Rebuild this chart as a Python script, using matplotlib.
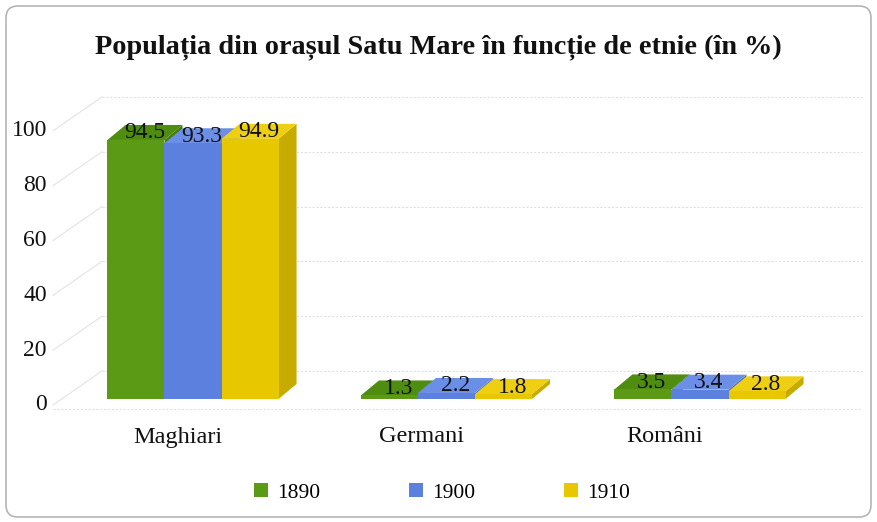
import matplotlib
matplotlib.use("Agg")
import matplotlib.pyplot as plt
from matplotlib.patches import Polygon, FancyBboxPatch, Patch
from matplotlib.transforms import IdentityTransform, ScaledTranslation
from matplotlib.lines import Line2D

plt.rcParams['font.family'] = ['Liberation Serif', 'DejaVu Serif']

# ---- data ----
categories = ["Maghiari", "Germani", "Români"]
years = ["1890", "1900", "1910"]
v1890 = [94.5, 1.3, 3.5]
v1900 = [93.3, 2.2, 3.4]
v1910 = [94.9, 1.8, 2.8]
yticks = [0, 20, 40, 60, 80, 100]
title = "Populația din orașul Satu Mare în funcție de etnie (în %)"

series = [v1890, v1900, v1910]
front = ["#5a9a14", "#5b80dd", "#e6c700"]
topc = ["#4f8d10", "#6b8fe6", "#eecf12"]
sidec = ["#457c0a", "#4a6cc4", "#c8ab00"]

W, H = 877, 522
fig = plt.figure(figsize=(W / 100, H / 100), dpi=100)
ax = fig.add_axes([40 / W, (H - 460) / H, 830 / W, 370 / H])
ax.set_xlim((40 - 193) / 253.5, (870 - 193) / 253.5)
ax.set_ylim(-(460 - 399) / 2.741, (399 - 90) / 2.741)
ax.axis("off")
fig.canvas.draw()

ID = IdentityTransform()
DX, DY = 18, 15          # bar depth in pixels
BACK = 28                # back wall offset in pixels
w = 0.225

def disp(x, y):
    return ax.transData.transform((x, y))

# back wall grid lines, side wall diagonals
for v in yticks:
    _, yb = disp(0, v)
    ax.add_line(Line2D([102, 862], [yb + BACK, yb + BACK], transform=ID,
                       color="#e0e0e0", lw=0.8, ls=(0, (2, 1.5)), zorder=0, clip_on=False))
    ax.add_line(Line2D([53, 102], [yb - 6, yb + BACK], transform=ID,
                       color="#e3e3e3", lw=0.8, zorder=0, clip_on=False))
    ax.text(47, yb - 6, str(v), transform=ID, ha="right", va="center",
            fontsize=17, color="#111111")
# floor front line
_, y0 = disp(0, 0)
ax.add_line(Line2D([53, 862], [y0 - 10, y0 - 10], transform=ID,
                   color="#e0e0e0", lw=0.8, ls=(0, (2, 1.5)), zorder=0, clip_on=False))

# bars
z = 2
for i in range(len(categories)):
    for j, vals in enumerate(series):
        v = vals[i]
        xc = i + (j - 1) * w
        xl, xr = xc - w / 2, xc + w / 2
        tl = disp(xl, v); tr = disp(xr, v); br = disp(xr, 0)
        side = Polygon([tr, br, (br[0] + DX, br[1] + DY), (tr[0] + DX, tr[1] + DY)],
                       closed=True, transform=ID, facecolor=sidec[j], edgecolor="none",
                       zorder=z, clip_on=False)
        top = Polygon([tl, tr, (tr[0] + DX, tr[1] + DY), (tl[0] + DX, tl[1] + DY)],
                      closed=True, transform=ID, facecolor=topc[j], edgecolor="none",
                      zorder=z + 0.1, clip_on=False)
        ax.add_patch(side)
        ax.add_patch(top)
        ax.bar(xc, v, width=w, color=front[j], zorder=z + 0.2, linewidth=0)
        z += 1

# value labels
lab_off = ScaledTranslation(9 / 100, 7 / 100, fig.dpi_scale_trans)
for i in range(len(categories)):
    for j, vals in enumerate(series):
        v = vals[i]
        xc = i + (j - 1) * w
        ax.text(xc, v, f"{v:.1f}", transform=ax.transData + lab_off,
                ha="center", va="center", fontsize=17, color="#111111", zorder=100)

# category labels
for i, c in enumerate(categories):
    ax.text(i * 0.96 - 0.06, 0, c,
            transform=ax.transData + ScaledTranslation(0, -38 / 100, fig.dpi_scale_trans),
            ha="center", va="center", fontsize=17.5, color="#111111")

# title
fig.text(0.5, 1 - 47 / H, title, ha="center", va="center", fontsize=20.3,
         fontweight="bold", color="#111111")

# legend
handles = [Patch(facecolor=front[j], edgecolor="none") for j in range(3)]
fig.legend(handles, years, loc="center", bbox_to_anchor=(442 / W, 1 - 493 / H),
           ncol=3, frameon=False, fontsize=15.5, handlelength=0.65, handleheight=0.65,
           handletextpad=0.45, columnspacing=4.1)

# outer border
fig.patches.append(FancyBboxPatch((6, 5), 865, 511, boxstyle="round,pad=0,rounding_size=12",
                                  transform=ID, facecolor="none", edgecolor="#b5b5b5",
                                  lw=1.2, figure=fig))

fig.savefig("out.png", dpi=100)
